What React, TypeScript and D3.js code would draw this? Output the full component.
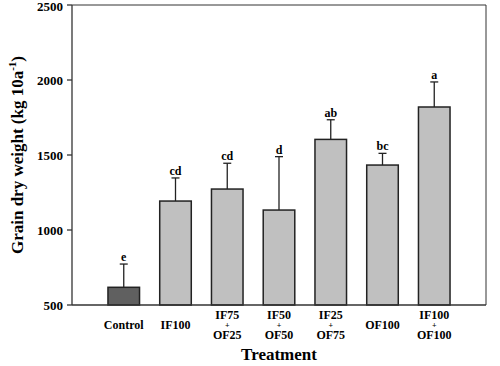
import React from 'react';
import * as d3 from 'd3';

const treatments = [
  ['Control'],
  ['IF100'],
  ['IF75', 'OF25'],
  ['IF50', 'OF50'],
  ['IF25', 'OF75'],
  ['OF100'],
  ['IF100', 'OF100'],
];
const means = [618, 1193, 1273, 1133, 1604, 1433, 1820];
const errors = [155, 154, 172, 356, 131, 78, 167];
const letters = ['e', 'cd', 'cd', 'd', 'ab', 'bc', 'a'];
const yTicks = [500, 1000, 1500, 2000, 2500];

const W = 500;
const H = 366;
const m = { left: 72, right: 14, top: 5, bottom: 61 };
const font = '"Liberation Serif", "Times New Roman", serif';

const App = () => {
  const x = d3.scaleLinear()
    .domain([0, treatments.length + 1])
    .range([m.left, W - m.right]);
  const y = d3.scaleLinear()
    .domain([500, 2500])
    .range([H - m.bottom, m.top]);
  const step = x(1) - x(0);
  const bw = step * 0.61;

  return (
    <svg
      width={W}
      height={H}
      style={{ position: 'absolute', left: 0, top: 0, background: '#fff' }}
      fontFamily={font}
      fontWeight="bold"
    >
      {/* bars */}
      {means.map((v, i) => {
        const cx = x(i + 1);
        const top = y(v + errors[i]);
        return (
          <g key={i}>
            <line x1={cx} x2={cx} y1={y(v)} y2={top} stroke="#222" strokeWidth={1.3} />
            <line x1={cx - 4} x2={cx + 4} y1={top} y2={top} stroke="#222" strokeWidth={1.3} />
            <rect
              x={cx - bw / 2}
              y={y(v)}
              width={bw}
              height={y(500) - y(v)}
              fill={i === 0 ? '#606060' : '#c0c0c0'}
              stroke="#222"
              strokeWidth={1.5}
            />
            <text x={cx} y={top - 3} textAnchor="middle" fontSize={12}>
              {letters[i]}
            </text>
          </g>
        );
      })}

      {/* frame */}
      <line x1={m.left} x2={W - m.right} y1={m.top} y2={m.top} stroke="#333" />
      <line x1={W - m.right} x2={W - m.right} y1={m.top} y2={H - m.bottom} stroke="#333" />
      <line x1={m.left} x2={W - m.right} y1={H - m.bottom} y2={H - m.bottom} stroke="#333" strokeWidth={1.3} />
      <line x1={m.left} x2={m.left} y1={m.top} y2={H - m.bottom} stroke="#333" strokeWidth={1.3} />

      {/* y axis */}
      {yTicks.map((t) => (
        <g key={t} transform={`translate(${m.left}, ${y(t)})`}>
          <line x1={-5} x2={0} stroke="#333" strokeWidth={1.3} />
          <text x={-9} dy={t === 2500 ? '0.45em' : '0.35em'} textAnchor="end" fontSize={13}>{t}</text>
        </g>
      ))}
      <text
        transform={`translate(23, ${(m.top + H - m.bottom) / 2}) rotate(-90)`}
        textAnchor="middle"
        fontSize={17}
      >
        Grain dry weight (kg 10a
        <tspan dy={-7} fontSize={11}>-1</tspan>
        <tspan dy={7}>)</tspan>
      </text>

      {/* x axis */}
      {treatments.map((lab, i) => (
        lab.length === 1 ? (
          <text key={i} x={x(i + 1)} y={329} textAnchor="middle" fontSize={12}>{lab[0]}</text>
        ) : (
          <g key={i}>
            <text x={x(i + 1)} y={319} textAnchor="middle" fontSize={12}>{lab[0]}</text>
            <text x={x(i + 1)} y={328} textAnchor="middle" fontSize={8}>+</text>
            <text x={x(i + 1)} y={338.5} textAnchor="middle" fontSize={12}>{lab[1]}</text>
          </g>
        )
      ))}
      <text x={(m.left + W - m.right) / 2} y={360} textAnchor="middle" fontSize={17}>Treatment</text>
    </svg>
  );
};

export default App;
